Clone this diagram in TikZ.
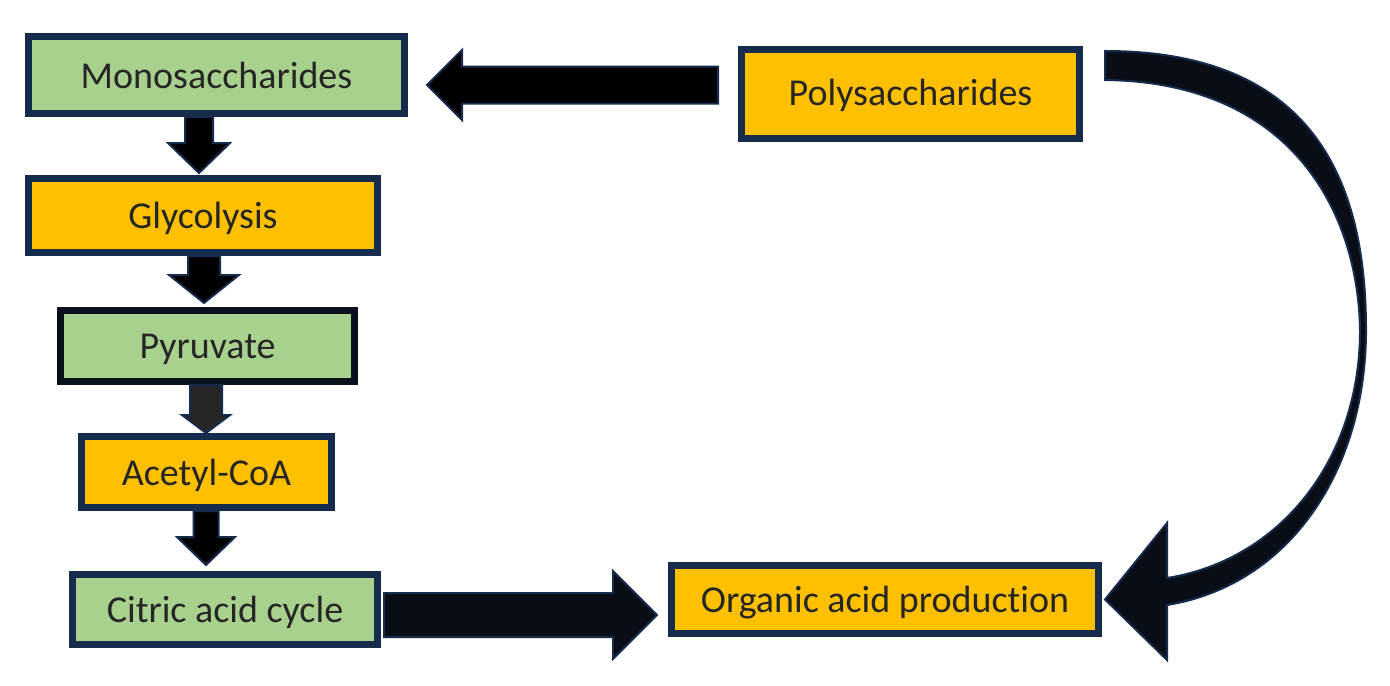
\documentclass[tikz,border=0pt]{standalone}
\usepackage{fontspec}
\setmainfont{Carlito}[Ligatures=NoCommon]
\usetikzlibrary{calc}
\definecolor{boxgreen}{HTML}{A9D18E}
\definecolor{boxorange}{HTML}{FFC000}
\definecolor{boxnavy}{HTML}{172B4D}
\definecolor{boxblack}{HTML}{0B111C}
\definecolor{arrowdark}{HTML}{080D16}
\definecolor{arrowgray}{HTML}{262626}
\definecolor{textgray}{HTML}{262626}

% block arrow from (#2) to tip (#3): shaft half width, head half width, head length
\newcommand{\blockarrow}[6][black]{%
  \coordinate (ba-b) at ($(#3)!#6!(#2)$);
  \draw[blockline, fill=#1] ($(#2)!#4!90:(#3)$) -- ($(ba-b)!#4!-90:(#2)$)
    -- ($(ba-b)!#5!-90:(#2)$) -- (#3) -- ($(ba-b)!#5!90:(#2)$)
    -- ($(ba-b)!#4!90:(#2)$) -- ($(#2)!#4!-90:(#3)$) -- cycle;}

\begin{document}
\begin{tikzpicture}[x=0.5pt, y=-0.5pt,
    box/.style={draw=boxnavy, line width=3.5pt, inner sep=0pt, text=textgray,
      text depth=0pt, font=\fontsize{19}{23}\selectfont},
    blockline/.style={draw=boxnavy, line width=1pt, line join=miter}]
\fill[white] (0,0) rectangle (1390,685);
\useasboundingbox (0,0) rectangle (1390,685);

\node[box, fill=boxgreen, minimum width=188pt, minimum height=38.5pt] (mono) at (216.5,75) {Monosaccharides};
\node[box, fill=boxorange, text depth=2pt, minimum width=169pt, minimum height=44.5pt] (poly) at (910.5,94) {Polysaccharides};
\node[box, fill=boxorange, minimum width=174.5pt, minimum height=37pt] (glyc) at (203,215.5) {Glycolysis};
\node[box, fill=boxgreen, draw=boxblack, minimum width=147pt, minimum height=35.5pt] (pyr) at (207.5,346) {Pyruvate};
\node[box, fill=boxorange, minimum width=125pt, minimum height=35.5pt] (acetyl) at (206.5,472) {Acetyl-CoA};
\node[box, fill=boxgreen, minimum width=152.5pt, minimum height=35pt] (citric) at (225,609.5) {Citric acid cycle};
\node[box, fill=boxorange, minimum width=213.5pt, minimum height=34pt] (organic) at (885,599.5) {Organic acid production};

% downward steps
\foreach \from/\to/\ax/\gap/\sw/\hw/\hl/\col in {
    mono/glyc/199/2/7pt/15.5pt/15pt/black,
    glyc/pyr/204/4/8pt/17.5pt/14pt/black,
    pyr/acetyl/206/0/8pt/12pt/9pt/arrowgray,
    acetyl/citric/206/6/6.25pt/14.5pt/14pt/black} {
  \coordinate (s) at (\ax,0 |- \from.south);
  \coordinate (t) at ($(\ax,0 |- \to.north)+(0,-\gap)$);
  \blockarrow[\col]{s}{t}{\sw}{\hw}{\hl}
}

% sideways steps
\coordinate (s) at ($(citric.east |- 0,615)+(3,0)$);
\coordinate (t) at ($(organic.west |- 0,615)+(-11,0)$);
\blockarrow[arrowdark]{s}{t}{11pt}{22pt}{22pt}
\coordinate (s) at ($(poly.west |- 0,85)+(-20,0)$);
\coordinate (t) at ($(mono.east |- 0,85)+(19,0)$);
\blockarrow[black]{s}{t}{9.25pt}{17.5pt}{17.5pt}

% curved arrow
\coordinate (ctop) at ($(poly.east)+(22,-43)$);
\coordinate (ctip) at ($(organic.east)+(3,0)$);
\draw[blockline, fill=arrowdark]
  (ctop) .. controls +(215,0) and +(0,-140) .. ($(ctop)+(261,279)$)
  .. controls +(0,140) and +(123,-20) .. ($(ctip)+(62,5.5)$)
  -- ($(ctip)+(62,60.5)$) -- (ctip) -- ($(ctip)+(62,-76.5)$) -- ($(ctip)+(62,-21.5)$)
  .. controls +(113,-18) and +(0,130) .. ($(ctop)+(255,279)$)
  .. controls +(-2,-120) and +(185,2) .. ($(ctop)+(0,29)$) -- cycle;
\end{tikzpicture}
\end{document}
